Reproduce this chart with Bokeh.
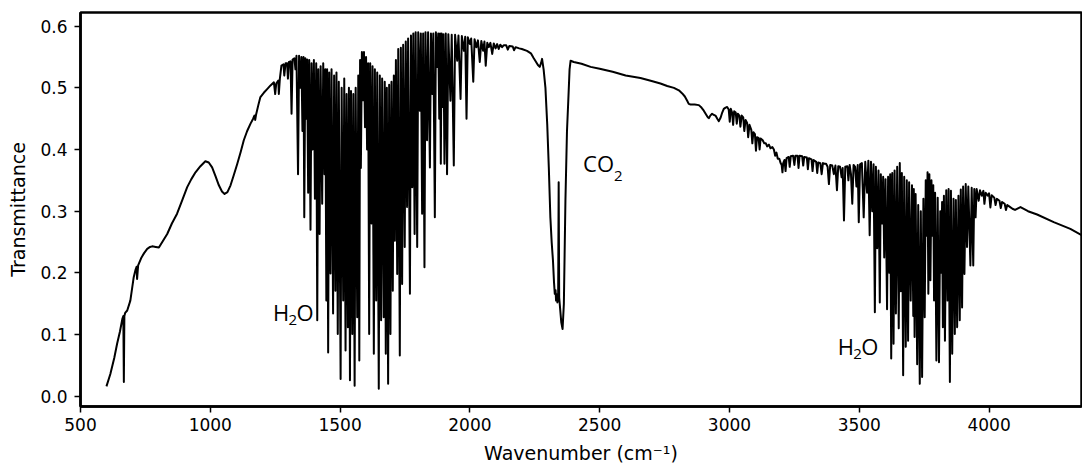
from bokeh.plotting import figure
from bokeh.models import Label, FixedTicker
from bokeh.embed import file_html
from bokeh.resources import INLINE

# ---- spectrum: (wavenumber cm-1, transmittance) ----
far_ir = [(600, 0.016), (615, 0.036), (630, 0.062), (641, 0.085), (652, 0.105), (661, 0.125),
          (665, 0.13), (667, 0.023), (669, 0.13), (672, 0.135), (680, 0.139), (692, 0.155),
          (705, 0.193), (712, 0.205), (716, 0.21), (718, 0.19), (722, 0.212), (735, 0.225),
          (745, 0.232), (757, 0.239), (768, 0.242), (776, 0.243), (790, 0.242), (802, 0.241),
          (815, 0.25), (834, 0.263), (852, 0.28), (872, 0.296), (892, 0.318), (911, 0.339),
          (927, 0.352), (943, 0.363), (962, 0.373), (981, 0.381), (994, 0.379), (1007, 0.371),
          (1020, 0.357), (1033, 0.342), (1045, 0.332), (1055, 0.328), (1066, 0.331), (1078, 0.342),
          (1090, 0.358), (1104, 0.377), (1117, 0.396), (1129, 0.415), (1142, 0.43), (1155, 0.442),
          (1165, 0.45), (1170, 0.455), (1173, 0.448), (1176, 0.456), (1185, 0.472), (1193, 0.485),
          (1206, 0.492), (1219, 0.498), (1232, 0.504), (1245, 0.509)]

h2o_bend = [(1250, 0.49), (1254, 0.507), (1262, 0.512), (1264, 0.49), (1268, 0.515), (1274, 0.536),
            (1282, 0.538), (1285, 0.52), (1290, 0.54), (1296, 0.54), (1299, 0.515), (1303, 0.542),
            (1309, 0.543), (1313, 0.458), (1317, 0.546), (1324, 0.548), (1328, 0.53), (1332, 0.552),
            (1338, 0.36), (1342, 0.552), (1347, 0.50), (1351, 0.55), (1355, 0.43), (1359, 0.55),
            (1362, 0.29), (1366, 0.548), (1370, 0.45), (1373, 0.546), (1377, 0.33), (1381, 0.545),
            (1386, 0.27), (1390, 0.54), (1394, 0.40), (1399, 0.545), (1403, 0.32), (1408, 0.54),
            (1412, 0.123), (1416, 0.53), (1421, 0.263), (1425, 0.535), (1431, 0.312), (1435, 0.54),
            (1440, 0.36), (1443, 0.53), (1447, 0.155), (1450, 0.53), (1454, 0.071), (1458, 0.525),
            (1463, 0.199), (1467, 0.53), (1473, 0.134), (1477, 0.52), (1482, 0.171), (1486, 0.525),
            (1491, 0.101), (1495, 0.51), (1502, 0.028), (1506, 0.50), (1512, 0.155), (1516, 0.515),
            (1521, 0.074), (1525, 0.49), (1530, 0.112), (1534, 0.50), (1538, 0.026), (1542, 0.495),
            (1547, 0.101), (1551, 0.49), (1556, 0.017), (1560, 0.50), (1566, 0.128), (1570, 0.52),
            (1574, 0.058), (1577, 0.545), (1580, 0.37), (1584, 0.558), (1588, 0.48), (1592, 0.558),
            (1596, 0.436), (1600, 0.55), (1604, 0.40), (1608, 0.54), (1612, 0.101), (1616, 0.54),
            (1621, 0.28), (1625, 0.535), (1630, 0.069), (1634, 0.53), (1639, 0.155), (1643, 0.525),
            (1649, 0.012), (1653, 0.52), (1658, 0.123), (1662, 0.515), (1668, 0.128), (1672, 0.51),
            (1676, 0.069), (1680, 0.50), (1685, 0.02), (1689, 0.505), (1694, 0.101), (1698, 0.51),
            (1703, 0.171), (1707, 0.52), (1711, 0.252), (1715, 0.545), (1720, 0.198), (1724, 0.563),
            (1730, 0.066), (1734, 0.565), (1739, 0.182), (1743, 0.57), (1749, 0.242), (1753, 0.575),
            (1758, 0.307), (1762, 0.58), (1769, 0.166), (1773, 0.585), (1778, 0.339), (1782, 0.588),
            (1787, 0.263), (1791, 0.59), (1797, 0.242), (1801, 0.59), (1807, 0.463), (1811, 0.588),
            (1816, 0.296), (1820, 0.588), (1825, 0.209), (1829, 0.59), (1835, 0.415), (1839, 0.59),
            (1846, 0.371), (1850, 0.588), (1855, 0.49), (1859, 0.588), (1865, 0.29), (1869, 0.59),
            (1874, 0.534), (1878, 0.588), (1882, 0.45), (1885, 0.588), (1888, 0.377), (1891, 0.588),
            (1894, 0.469), (1898, 0.587), (1902, 0.377), (1907, 0.588), (1912, 0.36), (1917, 0.587),
            (1925, 0.479), (1930, 0.586), (1938, 0.374), (1943, 0.586), (1951, 0.544), (1956, 0.585),
            (1964, 0.482), (1969, 0.584), (1977, 0.56), (1982, 0.583), (1987, 0.45), (1992, 0.582),
            (2000, 0.571), (2005, 0.58), (2013, 0.51), (2018, 0.579), (2025, 0.566), (2031, 0.577),
            (2038, 0.542), (2044, 0.576), (2051, 0.56), (2056, 0.575), (2061, 0.536), (2067, 0.573),
            (2073, 0.566), (2079, 0.573), (2086, 0.555), (2092, 0.572), (2099, 0.564), (2105, 0.571),
            (2111, 0.563), (2117, 0.57), (2124, 0.566), (2130, 0.569)]

co2_band = [(2140, 0.569), (2146, 0.562), (2152, 0.568), (2165, 0.567), (2170, 0.561), (2176, 0.566),
            (2190, 0.564), (2200, 0.563), (2220, 0.56), (2235, 0.556), (2246, 0.548), (2255, 0.542),
            (2262, 0.537), (2269, 0.534), (2274, 0.54), (2278, 0.547), (2284, 0.53), (2291, 0.50),
            (2298, 0.44), (2304, 0.371), (2310, 0.29), (2315, 0.25), (2320, 0.22), (2324, 0.185),
            (2327, 0.166), (2330, 0.172), (2332, 0.155), (2335, 0.165), (2337, 0.152), (2340, 0.16),
            (2342, 0.347), (2344, 0.16), (2348, 0.14), (2352, 0.12), (2357, 0.109), (2362, 0.15),
            (2368, 0.317), (2374, 0.43), (2379, 0.479), (2384, 0.53), (2388, 0.544), (2400, 0.542),
            (2430, 0.539), (2465, 0.534), (2500, 0.531), (2550, 0.526), (2600, 0.52), (2657, 0.516)]

mid_ir = [(2700, 0.511), (2734, 0.507), (2760, 0.503), (2786, 0.50), (2805, 0.496), (2818, 0.491),
          (2828, 0.486), (2837, 0.479), (2843, 0.474), (2850, 0.473), (2866, 0.473), (2882, 0.472),
          (2892, 0.468), (2901, 0.463), (2911, 0.456), (2917, 0.452), (2921, 0.451), (2926, 0.455),
          (2933, 0.458), (2940, 0.456), (2946, 0.455), (2953, 0.45), (2959, 0.446), (2966, 0.452),
          (2972, 0.46), (2978, 0.466), (2985, 0.468), (2991, 0.469), (2997, 0.465), (3001, 0.445),
          (3005, 0.466), (3010, 0.46), (3014, 0.44), (3018, 0.462), (3024, 0.46), (3028, 0.442),
          (3032, 0.458), (3038, 0.455), (3042, 0.437), (3047, 0.455), (3053, 0.452), (3057, 0.43),
          (3062, 0.448), (3068, 0.443), (3072, 0.42), (3077, 0.44), (3084, 0.432), (3088, 0.41),
          (3092, 0.428), (3098, 0.425), (3102, 0.398), (3106, 0.42), (3112, 0.419), (3116, 0.40),
          (3120, 0.418), (3128, 0.415), (3134, 0.41), (3140, 0.41), (3145, 0.405), (3152, 0.408),
          (3158, 0.402), (3165, 0.404), (3171, 0.40), (3176, 0.39), (3181, 0.395), (3186, 0.385),
          (3192, 0.385), (3197, 0.378), (3201, 0.375), (3204, 0.363), (3207, 0.378), (3212, 0.383),
          (3216, 0.365), (3220, 0.386), (3228, 0.388), (3232, 0.372), (3236, 0.389), (3245, 0.39),
          (3250, 0.375), (3254, 0.39), (3262, 0.39), (3266, 0.37), (3270, 0.39), (3280, 0.389),
          (3284, 0.374), (3288, 0.388), (3298, 0.387), (3302, 0.368), (3306, 0.386), (3316, 0.384),
          (3320, 0.365), (3324, 0.383), (3334, 0.38), (3338, 0.362), (3342, 0.379), (3350, 0.378),
          (3355, 0.36), (3360, 0.378), (3366, 0.377), (3372, 0.377), (3378, 0.372), (3383, 0.344),
          (3388, 0.375), (3396, 0.374), (3402, 0.36), (3408, 0.374), (3414, 0.334), (3419, 0.373),
          (3426, 0.372), (3432, 0.355), (3436, 0.37), (3441, 0.285), (3446, 0.372), (3454, 0.373),
          (3458, 0.35), (3463, 0.375), (3468, 0.36), (3473, 0.312), (3478, 0.375), (3484, 0.372),
          (3489, 0.34), (3494, 0.375), (3498, 0.282), (3503, 0.376)]

h2o_stretch = [(3510, 0.378), (3517, 0.29), (3523, 0.38), (3530, 0.33), (3535, 0.382), (3540, 0.261),
               (3545, 0.38), (3550, 0.30), (3555, 0.376), (3560, 0.136), (3564, 0.372), (3569, 0.24),
               (3574, 0.366), (3579, 0.152), (3583, 0.36), (3588, 0.28), (3592, 0.356), (3596, 0.225),
               (3601, 0.352), (3607, 0.141), (3611, 0.356), (3616, 0.20), (3619, 0.36), (3623, 0.061),
               (3627, 0.362), (3632, 0.085), (3636, 0.366), (3641, 0.134), (3646, 0.372), (3652, 0.11),
               (3656, 0.378), (3660, 0.17), (3664, 0.362), (3669, 0.034), (3673, 0.356), (3679, 0.08),
               (3683, 0.35), (3688, 0.09), (3692, 0.347), (3698, 0.155), (3703, 0.342), (3708, 0.13),
               (3710, 0.336), (3713, 0.096), (3717, 0.328), (3723, 0.052), (3727, 0.31), (3733, 0.02),
               (3737, 0.30), (3742, 0.031), (3747, 0.32), (3752, 0.128), (3756, 0.35), (3760, 0.26),
               (3763, 0.363), (3766, 0.166), (3770, 0.36), (3774, 0.188), (3778, 0.35), (3782, 0.26),
               (3785, 0.342), (3788, 0.155), (3792, 0.33), (3797, 0.058), (3802, 0.322), (3807, 0.055),
               (3812, 0.30), (3816, 0.20), (3819, 0.315), (3822, 0.112), (3826, 0.325), (3830, 0.09),
               (3835, 0.334), (3840, 0.155), (3844, 0.336), (3849, 0.023), (3853, 0.333), (3858, 0.069),
               (3863, 0.32), (3868, 0.101), (3872, 0.318), (3877, 0.112), (3882, 0.325), (3887, 0.123),
               (3891, 0.335), (3896, 0.144), (3900, 0.34), (3905, 0.198), (3910, 0.344), (3915, 0.242),
               (3920, 0.34), (3928, 0.212), (3933, 0.338), (3939, 0.212), (3943, 0.336), (3948, 0.29),
               (3952, 0.336), (3960, 0.317), (3965, 0.334)]

near_ir = [(3972, 0.325), (3978, 0.333), (3982, 0.312), (3987, 0.33), (3995, 0.325), (4000, 0.329),
           (4005, 0.306), (4010, 0.326), (4020, 0.322), (4025, 0.31), (4030, 0.32), (4040, 0.317),
           (4045, 0.305), (4050, 0.315), (4060, 0.312), (4065, 0.302), (4070, 0.31), (4080, 0.307),
           (4090, 0.304), (4100, 0.302), (4121, 0.3066), (4150, 0.30), (4185, 0.2946), (4249, 0.2822),
           (4313, 0.2714), (4365, 0.259)]

segments = [far_ir, h2o_bend, co2_band, mid_ir, h2o_stretch, near_ir]
wavenumber = [pt[0] for seg in segments for pt in seg]
transmittance = [pt[1] for seg in segments for pt in seg]

x_ticks = [500, 1000, 1500, 2000, 2500, 3000, 3500, 4000]
x_tick_labels = ["500", "1000", "1500", "2000", "2500", "3000", "3500", "4000"]
y_ticks = [0.0, 0.1, 0.2, 0.3, 0.4, 0.5, 0.6]
y_tick_labels = ["0.0", "0.1", "0.2", "0.3", "0.4", "0.5", "0.6"]

p = figure(width=1082, height=469, x_range=(500, 4356), y_range=(-0.0167, 0.6222),
           output_backend="svg", toolbar_location=None,
           min_border_left=80, min_border_right=1, min_border_top=12, min_border_bottom=63)
p.background_fill_color = "white"
p.border_fill_color = "white"
p.xgrid.visible = False
p.ygrid.visible = False
p.outline_line_color = "black"
p.outline_line_width = 2.5
p.outline_line_alpha = 1.0

p.line(wavenumber, transmittance, line_color="black", line_width=2, line_join="round")

for ax in (p.xaxis[0], p.yaxis[0]):
    ax.axis_line_width = 2.5
    ax.axis_line_color = "black"
    ax.major_tick_in = 0
    ax.major_tick_out = 6
    ax.major_tick_line_width = 1.5
    ax.major_tick_line_color = "black"
    ax.minor_tick_line_color = None
    ax.major_label_text_font = "DejaVu Sans"
    ax.major_label_text_font_size = "17px"
    ax.major_label_text_color = "black"
    ax.axis_label_text_font = "DejaVu Sans"
    ax.axis_label_text_font_size = "19px"
    ax.axis_label_text_font_style = "normal"
    ax.axis_label_text_color = "black"

p.xaxis[0].ticker = FixedTicker(ticks=x_ticks)
p.xaxis[0].major_label_overrides = {t: s for t, s in zip(x_ticks, x_tick_labels)}
p.xaxis[0].major_label_standoff = 5
p.xaxis[0].axis_label = "Wavenumber (cm\u207b\u00b9)"
p.xaxis[0].axis_label_standoff = 8

p.yaxis[0].ticker = FixedTicker(ticks=y_ticks)
p.yaxis[0].major_label_overrides = {t: s for t, s in zip(y_ticks, y_tick_labels)}
p.yaxis[0].major_label_standoff = 7
p.yaxis[0].axis_label = "Transmittance"
p.yaxis[0].axis_label_standoff = 8

# ---- band labels: (text, x, y, x_offset px, y_offset px, font size) ----
band_labels = [
    ("H", 1242, 0.1276, 0, 6, "22px"), ("2", 1242, 0.1276, 15.5, -2, "15px"), ("O", 1242, 0.1276, 23.5, 6, "22px"),
    ("C", 2436, 0.3671, 0, 7, "22px"), ("O", 2436, 0.3671, 14, 7, "22px"), ("2", 2436, 0.3671, 31, -6, "15px"),
    ("H", 3417, 0.0713, 0, 6, "22px"), ("2", 3417, 0.0713, 15.5, -2, "15px"), ("O", 3417, 0.0713, 23.5, 6, "22px"),
]
for txt, lx, ly, dx, dy, fs in band_labels:
    p.add_layout(Label(x=lx, y=ly, x_offset=dx, y_offset=dy, text=txt, text_font="Open Sans",
                       text_font_size=fs, text_color="black", text_align="left",
                       text_baseline="alphabetic"))

open("out.html", "w").write(file_html(p, INLINE))
